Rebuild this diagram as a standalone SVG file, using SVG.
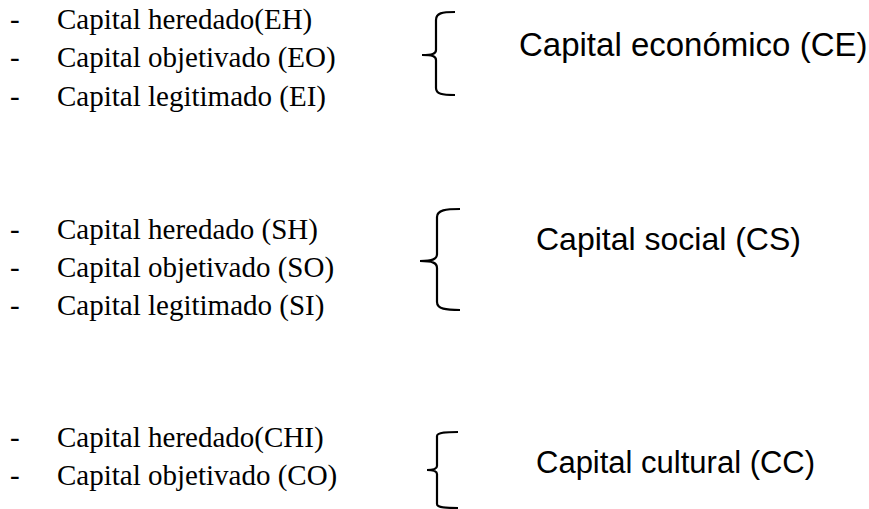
<svg xmlns="http://www.w3.org/2000/svg" width="869" height="509" viewBox="0 0 869 509">
<style>
.item{font-family:"Liberation Serif","Times New Roman",serif;font-size:29px;fill:#000}
.label{font-family:"Liberation Sans",Arial,sans-serif;font-size:32px;fill:#000}
.brace{fill:none;stroke:#000;stroke-width:2.2;stroke-linecap:butt}
</style>
<rect width="869" height="509" fill="#fff"/>
<g id="list-economico">
<text class="item" x="10" y="29">-</text><text class="item" x="57" y="29">Capital heredado(EH)</text>
<text class="item" x="10" y="67">-</text><text class="item" x="57" y="67">Capital objetivado (EO)</text>
<text class="item" x="10" y="106">-</text><text class="item" x="57" y="106">Capital legitimado (EI)</text>
</g>
<g id="list-social">
<text class="item" x="10" y="239">-</text><text class="item" x="57" y="239">Capital heredado (SH)</text>
<text class="item" x="10" y="277">-</text><text class="item" x="57" y="277">Capital objetivado (SO)</text>
<text class="item" x="10" y="315">-</text><text class="item" x="57" y="315">Capital legitimado (SI)</text>
</g>
<g id="list-cultural">
<text class="item" x="10" y="447">-</text><text class="item" x="57" y="447">Capital heredado(CHI)</text>
<text class="item" x="10" y="485">-</text><text class="item" x="57" y="485">Capital objetivado (CO)</text>
</g>
<g id="connectors">
<path class="brace" d="M455,12 C442,12 436,13 436,20 L436,50 C436,54 432,55 422,55 C432,55 436,56 436,60 L436,88 C436,94 442,95 455,95"/>
<path class="brace" d="M460,209 C446,209 437,210 437,217 L437,254 C437,259 433,261 420,261 C433,261 437,263 437,268 L437,302 C437,309 446,310 460,310"/>
<path class="brace" d="M458,432 C448,432 437,432 437,436 L437,466 C437,469 434,470 427,470 C434,470 437,471 437,474 L437,504 C437,508 448,508 458,508"/>
</g>
<g id="capital-economico"><text class="label" x="519" y="56" style="font-size:33px">Capital económico (CE)</text></g>
<g id="capital-social"><text class="label" x="536" y="250">Capital social (CS)</text></g>
<g id="capital-cultural"><text class="label" x="536" y="473" style="font-size:31px">Capital cultural (CC)</text></g>
</svg>
